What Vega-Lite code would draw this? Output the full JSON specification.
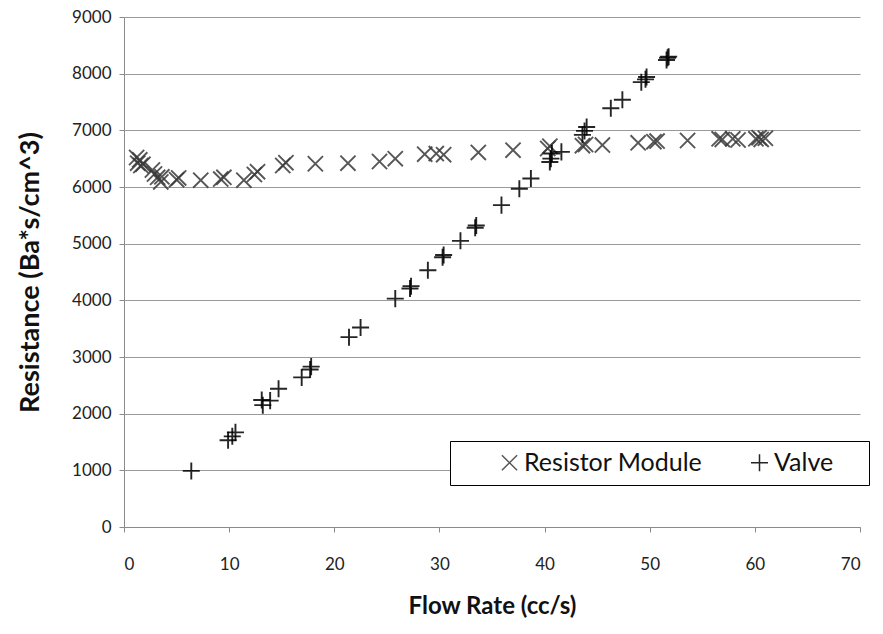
{
  "$schema": "https://vega.github.io/schema/vega-lite/v6.json",
  "autosize": "none",
  "width": 736,
  "height": 510,
  "padding": {"left": 124, "top": 17, "right": 23, "bottom": 107},
  "background": "white",
  "config": {
    "view": {"stroke": null},
    "font": "Lato",
    "axis": {
      "labelFont": "Lato",
      "labelFontSize": 17,
      "labelColor": "#222",
      "titleFont": "Lato",
      "titleFontSize": 24,
      "titleFontWeight": "bold",
      "titleColor": "#111",
      "domainColor": "#8a8a8a",
      "tickColor": "#8a8a8a",
      "tickSize": 5,
      "gridColor": "#9a9a9a",
      "gridWidth": 1.2
    }
  },
  "data": {
    "values": [
      {"series": "Resistor Module", "flow": 1.2, "resistance": 6520},
      {"series": "Resistor Module", "flow": 1.3, "resistance": 6420},
      {"series": "Resistor Module", "flow": 1.5, "resistance": 6480},
      {"series": "Resistor Module", "flow": 1.6, "resistance": 6380},
      {"series": "Resistor Module", "flow": 1.8, "resistance": 6400},
      {"series": "Resistor Module", "flow": 2.7, "resistance": 6300},
      {"series": "Resistor Module", "flow": 2.9, "resistance": 6230},
      {"series": "Resistor Module", "flow": 3.2, "resistance": 6170},
      {"series": "Resistor Module", "flow": 3.5, "resistance": 6090},
      {"series": "Resistor Module", "flow": 3.6, "resistance": 6180},
      {"series": "Resistor Module", "flow": 5.0, "resistance": 6130},
      {"series": "Resistor Module", "flow": 5.2, "resistance": 6160},
      {"series": "Resistor Module", "flow": 7.3, "resistance": 6120},
      {"series": "Resistor Module", "flow": 9.2, "resistance": 6140},
      {"series": "Resistor Module", "flow": 9.5, "resistance": 6170},
      {"series": "Resistor Module", "flow": 11.4, "resistance": 6120},
      {"series": "Resistor Module", "flow": 12.4, "resistance": 6220},
      {"series": "Resistor Module", "flow": 12.7, "resistance": 6270},
      {"series": "Resistor Module", "flow": 15.1, "resistance": 6380},
      {"series": "Resistor Module", "flow": 15.4, "resistance": 6430},
      {"series": "Resistor Module", "flow": 18.2, "resistance": 6410},
      {"series": "Resistor Module", "flow": 21.3, "resistance": 6420},
      {"series": "Resistor Module", "flow": 24.3, "resistance": 6450},
      {"series": "Resistor Module", "flow": 25.8, "resistance": 6500},
      {"series": "Resistor Module", "flow": 28.6, "resistance": 6580},
      {"series": "Resistor Module", "flow": 29.7, "resistance": 6590},
      {"series": "Resistor Module", "flow": 30.4, "resistance": 6570},
      {"series": "Resistor Module", "flow": 33.7, "resistance": 6610},
      {"series": "Resistor Module", "flow": 37.0, "resistance": 6650},
      {"series": "Resistor Module", "flow": 40.3, "resistance": 6680},
      {"series": "Resistor Module", "flow": 40.5, "resistance": 6720},
      {"series": "Resistor Module", "flow": 43.6, "resistance": 6730},
      {"series": "Resistor Module", "flow": 43.9, "resistance": 6750},
      {"series": "Resistor Module", "flow": 45.5, "resistance": 6740},
      {"series": "Resistor Module", "flow": 48.9, "resistance": 6780},
      {"series": "Resistor Module", "flow": 50.4, "resistance": 6800},
      {"series": "Resistor Module", "flow": 50.7, "resistance": 6810},
      {"series": "Resistor Module", "flow": 53.6, "resistance": 6820},
      {"series": "Resistor Module", "flow": 56.6, "resistance": 6850},
      {"series": "Resistor Module", "flow": 56.9, "resistance": 6840},
      {"series": "Resistor Module", "flow": 57.9, "resistance": 6850},
      {"series": "Resistor Module", "flow": 58.4, "resistance": 6830},
      {"series": "Resistor Module", "flow": 60.1, "resistance": 6850},
      {"series": "Resistor Module", "flow": 60.4, "resistance": 6870},
      {"series": "Resistor Module", "flow": 60.6, "resistance": 6840},
      {"series": "Resistor Module", "flow": 61.0, "resistance": 6860},
      {"series": "Valve", "flow": 6.4, "resistance": 990},
      {"series": "Valve", "flow": 9.9, "resistance": 1530},
      {"series": "Valve", "flow": 10.3, "resistance": 1600},
      {"series": "Valve", "flow": 10.6, "resistance": 1670},
      {"series": "Valve", "flow": 13.1, "resistance": 2240},
      {"series": "Valve", "flow": 13.2, "resistance": 2150},
      {"series": "Valve", "flow": 13.9, "resistance": 2230},
      {"series": "Valve", "flow": 14.7, "resistance": 2440},
      {"series": "Valve", "flow": 16.9, "resistance": 2640},
      {"series": "Valve", "flow": 17.7, "resistance": 2780},
      {"series": "Valve", "flow": 17.8, "resistance": 2830},
      {"series": "Valve", "flow": 21.4, "resistance": 3350},
      {"series": "Valve", "flow": 22.5, "resistance": 3520},
      {"series": "Valve", "flow": 25.8, "resistance": 4030},
      {"series": "Valve", "flow": 27.2, "resistance": 4210},
      {"series": "Valve", "flow": 27.3, "resistance": 4250},
      {"series": "Valve", "flow": 28.9, "resistance": 4530},
      {"series": "Valve", "flow": 30.3, "resistance": 4760},
      {"series": "Valve", "flow": 30.4, "resistance": 4800},
      {"series": "Valve", "flow": 32.0, "resistance": 5050},
      {"series": "Valve", "flow": 33.4, "resistance": 5280},
      {"series": "Valve", "flow": 33.5, "resistance": 5320},
      {"series": "Valve", "flow": 35.9, "resistance": 5680},
      {"series": "Valve", "flow": 37.6, "resistance": 5970},
      {"series": "Valve", "flow": 38.7, "resistance": 6150},
      {"series": "Valve", "flow": 40.5, "resistance": 6440},
      {"series": "Valve", "flow": 40.6, "resistance": 6500},
      {"series": "Valve", "flow": 40.7, "resistance": 6590},
      {"series": "Valve", "flow": 41.6, "resistance": 6620},
      {"series": "Valve", "flow": 43.6, "resistance": 6920},
      {"series": "Valve", "flow": 43.8, "resistance": 6990},
      {"series": "Valve", "flow": 44.0, "resistance": 7060},
      {"series": "Valve", "flow": 46.3, "resistance": 7390},
      {"series": "Valve", "flow": 47.4, "resistance": 7540},
      {"series": "Valve", "flow": 49.2, "resistance": 7850},
      {"series": "Valve", "flow": 49.6, "resistance": 7900},
      {"series": "Valve", "flow": 49.7, "resistance": 7940},
      {"series": "Valve", "flow": 51.6, "resistance": 8240},
      {"series": "Valve", "flow": 51.7, "resistance": 8280},
      {"series": "Valve", "flow": 51.8, "resistance": 8300}
    ]
  },
  "mark": {"type": "point", "filled": false, "strokeWidth": 1.9, "opacity": 0.85},
  "encoding": {
    "x": {
      "field": "flow",
      "type": "quantitative",
      "scale": {"domain": [0, 70], "nice": false},
      "axis": {
        "values": [0, 10, 20, 30, 40, 50, 60, 70],
        "grid": false,
        "title": "Flow Rate (cc/s)",
        "labelPadding": 24,
        "titlePadding": 22
      }
    },
    "y": {
      "field": "resistance",
      "type": "quantitative",
      "scale": {"domain": [0, 9000], "nice": false},
      "axis": {
        "values": [0, 1000, 2000, 3000, 4000, 5000, 6000, 7000, 8000, 9000],
        "format": "d",
        "title": "Resistance (Ba*s/cm^3)",
        "titleFontSize": 27,
        "labelPadding": 8,
        "titlePadding": 27
      }
    },
    "shape": {
      "field": "series",
      "type": "nominal",
      "scale": {
        "domain": ["Resistor Module", "Valve"],
        "range": ["M-1,-1L1,1M-1,1L1,-1", "M-1,0L1,0M0,-1L0,1"]
      },
      "legend": null
    },
    "color": {
      "field": "series",
      "type": "nominal",
      "scale": {"domain": ["Resistor Module", "Valve"], "range": ["#3a3a3a", "#000000"]},
      "legend": {
        "title": "\u00a0",
        "titleOrient": "right",
        "titlePadding": 27,
        "titleFontSize": 10,
        "orient": "none",
        "legendX": 326,
        "legendY": 424,
        "direction": "horizontal",
        "strokeColor": "#000",
        "fillColor": "white",
        "padding": 9,
        "symbolOffset": 38,
        "columnPadding": 6,
        "labelFont": "Lato",
        "labelFontSize": 25,
        "labelLimit": 400,
        "labelColor": "#111",
        "labelOffset": 2,
        "symbolSize": 300,
        "symbolStrokeWidth": 1.5,
        "symbolFillColor": "transparent"
      }
    },
    "size": {
      "field": "series",
      "type": "nominal",
      "scale": {"domain": ["Resistor Module", "Valve"], "range": [230, 290]},
      "legend": null
    }
  }
}
